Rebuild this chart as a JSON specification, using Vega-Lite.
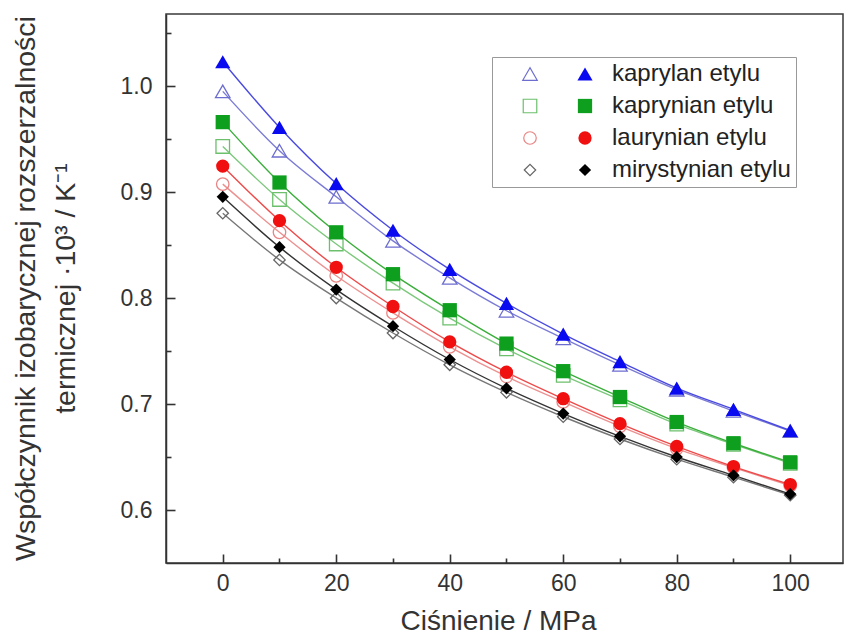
{
  "$schema": "https://vega.github.io/schema/vega-lite/v6.json",
  "width": 677,
  "height": 549,
  "autosize": {"type": "none"},
  "padding": {"left": 166, "top": 14, "right": 3, "bottom": 76},
  "background": "white",
  "config": {
    "font": "Liberation Sans",
    "view": {"stroke": "#3a3a3a", "strokeWidth": 1.5},
    "axis": {
      "grid": false,
      "zindex": 1,
      "domainColor": "#333333",
      "domainWidth": 1.5,
      "tickColor": "#333333",
      "tickWidth": 1.6,
      "labelColor": "#333333",
      "titleColor": "#333333",
      "labelFont": "Liberation Sans",
      "titleFont": "Liberation Sans",
      "titleFontWeight": "normal"
    }
  },
  "data": {
    "values": [
      {"p": 0, "a": 1.023, "ester": "kaprylan etylu", "typ": "filled"},
      {"p": 10, "a": 0.961, "ester": "kaprylan etylu", "typ": "filled"},
      {"p": 20, "a": 0.908, "ester": "kaprylan etylu", "typ": "filled"},
      {"p": 30, "a": 0.864, "ester": "kaprylan etylu", "typ": "filled"},
      {"p": 40, "a": 0.827, "ester": "kaprylan etylu", "typ": "filled"},
      {"p": 50, "a": 0.795, "ester": "kaprylan etylu", "typ": "filled"},
      {"p": 60, "a": 0.766, "ester": "kaprylan etylu", "typ": "filled"},
      {"p": 70, "a": 0.740, "ester": "kaprylan etylu", "typ": "filled"},
      {"p": 80, "a": 0.715, "ester": "kaprylan etylu", "typ": "filled"},
      {"p": 90, "a": 0.695, "ester": "kaprylan etylu", "typ": "filled"},
      {"p": 100, "a": 0.675, "ester": "kaprylan etylu", "typ": "filled"},
      {"p": 0, "a": 0.995, "ester": "kaprylan etylu", "typ": "open"},
      {"p": 10, "a": 0.939, "ester": "kaprylan etylu", "typ": "open"},
      {"p": 20, "a": 0.8955, "ester": "kaprylan etylu", "typ": "open"},
      {"p": 30, "a": 0.854, "ester": "kaprylan etylu", "typ": "open"},
      {"p": 40, "a": 0.819, "ester": "kaprylan etylu", "typ": "open"},
      {"p": 50, "a": 0.788, "ester": "kaprylan etylu", "typ": "open"},
      {"p": 60, "a": 0.762, "ester": "kaprylan etylu", "typ": "open"},
      {"p": 70, "a": 0.737, "ester": "kaprylan etylu", "typ": "open"},
      {"p": 80, "a": 0.7135, "ester": "kaprylan etylu", "typ": "open"},
      {"p": 90, "a": 0.6935, "ester": "kaprylan etylu", "typ": "open"},
      {"p": 100, "a": 0.6745, "ester": "kaprylan etylu", "typ": "open"},
      {"p": 0, "a": 0.966, "ester": "kaprynian etylu", "typ": "filled"},
      {"p": 10, "a": 0.909, "ester": "kaprynian etylu", "typ": "filled"},
      {"p": 20, "a": 0.862, "ester": "kaprynian etylu", "typ": "filled"},
      {"p": 30, "a": 0.8225, "ester": "kaprynian etylu", "typ": "filled"},
      {"p": 40, "a": 0.7885, "ester": "kaprynian etylu", "typ": "filled"},
      {"p": 50, "a": 0.757, "ester": "kaprynian etylu", "typ": "filled"},
      {"p": 60, "a": 0.731, "ester": "kaprynian etylu", "typ": "filled"},
      {"p": 70, "a": 0.7066, "ester": "kaprynian etylu", "typ": "filled"},
      {"p": 80, "a": 0.683, "ester": "kaprynian etylu", "typ": "filled"},
      {"p": 90, "a": 0.663, "ester": "kaprynian etylu", "typ": "filled"},
      {"p": 100, "a": 0.645, "ester": "kaprynian etylu", "typ": "filled"},
      {"p": 0, "a": 0.943, "ester": "kaprynian etylu", "typ": "open"},
      {"p": 10, "a": 0.893, "ester": "kaprynian etylu", "typ": "open"},
      {"p": 20, "a": 0.851, "ester": "kaprynian etylu", "typ": "open"},
      {"p": 30, "a": 0.814, "ester": "kaprynian etylu", "typ": "open"},
      {"p": 40, "a": 0.781, "ester": "kaprynian etylu", "typ": "open"},
      {"p": 50, "a": 0.752, "ester": "kaprynian etylu", "typ": "open"},
      {"p": 60, "a": 0.727, "ester": "kaprynian etylu", "typ": "open"},
      {"p": 70, "a": 0.704, "ester": "kaprynian etylu", "typ": "open"},
      {"p": 80, "a": 0.681, "ester": "kaprynian etylu", "typ": "open"},
      {"p": 90, "a": 0.662, "ester": "kaprynian etylu", "typ": "open"},
      {"p": 100, "a": 0.644, "ester": "kaprynian etylu", "typ": "open"},
      {"p": 0, "a": 0.9245, "ester": "laurynian etylu", "typ": "filled"},
      {"p": 10, "a": 0.873, "ester": "laurynian etylu", "typ": "filled"},
      {"p": 20, "a": 0.829, "ester": "laurynian etylu", "typ": "filled"},
      {"p": 30, "a": 0.792, "ester": "laurynian etylu", "typ": "filled"},
      {"p": 40, "a": 0.7586, "ester": "laurynian etylu", "typ": "filled"},
      {"p": 50, "a": 0.730, "ester": "laurynian etylu", "typ": "filled"},
      {"p": 60, "a": 0.705, "ester": "laurynian etylu", "typ": "filled"},
      {"p": 70, "a": 0.6815, "ester": "laurynian etylu", "typ": "filled"},
      {"p": 80, "a": 0.660, "ester": "laurynian etylu", "typ": "filled"},
      {"p": 90, "a": 0.641, "ester": "laurynian etylu", "typ": "filled"},
      {"p": 100, "a": 0.624, "ester": "laurynian etylu", "typ": "filled"},
      {"p": 0, "a": 0.9075, "ester": "laurynian etylu", "typ": "open"},
      {"p": 10, "a": 0.862, "ester": "laurynian etylu", "typ": "open"},
      {"p": 20, "a": 0.821, "ester": "laurynian etylu", "typ": "open"},
      {"p": 30, "a": 0.786, "ester": "laurynian etylu", "typ": "open"},
      {"p": 40, "a": 0.754, "ester": "laurynian etylu", "typ": "open"},
      {"p": 50, "a": 0.726, "ester": "laurynian etylu", "typ": "open"},
      {"p": 60, "a": 0.702, "ester": "laurynian etylu", "typ": "open"},
      {"p": 70, "a": 0.679, "ester": "laurynian etylu", "typ": "open"},
      {"p": 80, "a": 0.658, "ester": "laurynian etylu", "typ": "open"},
      {"p": 90, "a": 0.640, "ester": "laurynian etylu", "typ": "open"},
      {"p": 100, "a": 0.623, "ester": "laurynian etylu", "typ": "open"},
      {"p": 0, "a": 0.8955, "ester": "mirystynian etylu", "typ": "filled"},
      {"p": 10, "a": 0.848, "ester": "mirystynian etylu", "typ": "filled"},
      {"p": 20, "a": 0.808, "ester": "mirystynian etylu", "typ": "filled"},
      {"p": 30, "a": 0.7734, "ester": "mirystynian etylu", "typ": "filled"},
      {"p": 40, "a": 0.742, "ester": "mirystynian etylu", "typ": "filled"},
      {"p": 50, "a": 0.7148, "ester": "mirystynian etylu", "typ": "filled"},
      {"p": 60, "a": 0.691, "ester": "mirystynian etylu", "typ": "filled"},
      {"p": 70, "a": 0.6695, "ester": "mirystynian etylu", "typ": "filled"},
      {"p": 80, "a": 0.650, "ester": "mirystynian etylu", "typ": "filled"},
      {"p": 90, "a": 0.6327, "ester": "mirystynian etylu", "typ": "filled"},
      {"p": 100, "a": 0.615, "ester": "mirystynian etylu", "typ": "filled"},
      {"p": 0, "a": 0.880, "ester": "mirystynian etylu", "typ": "open"},
      {"p": 10, "a": 0.836, "ester": "mirystynian etylu", "typ": "open"},
      {"p": 20, "a": 0.800, "ester": "mirystynian etylu", "typ": "open"},
      {"p": 30, "a": 0.767, "ester": "mirystynian etylu", "typ": "open"},
      {"p": 40, "a": 0.737, "ester": "mirystynian etylu", "typ": "open"},
      {"p": 50, "a": 0.711, "ester": "mirystynian etylu", "typ": "open"},
      {"p": 60, "a": 0.688, "ester": "mirystynian etylu", "typ": "open"},
      {"p": 70, "a": 0.667, "ester": "mirystynian etylu", "typ": "open"},
      {"p": 80, "a": 0.648, "ester": "mirystynian etylu", "typ": "open"},
      {"p": 90, "a": 0.631, "ester": "mirystynian etylu", "typ": "open"},
      {"p": 100, "a": 0.614, "ester": "mirystynian etylu", "typ": "open"}
    ]
  },
  "encoding": {
    "x": {
      "field": "p",
      "type": "quantitative",
      "scale": {"domain": [-10, 109.3], "nice": false, "zero": false},
      "axis": {
        "values": [0, 10, 20, 30, 40, 50, 60, 70, 80, 90, 100],
        "labelExpr": "datum.value % 20 === 0 ? datum.label : ''",
        "labelFontSize": 23,
        "labelPadding": 18,
        "tickSize": {"condition": {"test": "datum.value % 20 === 0", "value": -9}, "value": -5},
        "title": "Ciśnienie / MPa",
        "titleFontSize": 28,
        "titleX": 332,
        "titleY": 66,
        "titleBaseline": "alphabetic"
      }
    },
    "y": {
      "field": "a",
      "type": "quantitative",
      "scale": {"domain": [0.55, 1.068], "nice": false, "zero": false},
      "axis": {
        "values": [0.6, 0.65, 0.7, 0.75, 0.8, 0.85, 0.9, 0.95, 1.0, 1.05],
        "format": ".1f",
        "labelExpr": "abs(datum.value * 10 - round(datum.value * 10)) < 0.001 ? datum.label : ''",
        "labelFontSize": 23,
        "labelPadding": 23,
        "tickSize": {"condition": {"test": "abs(datum.value * 10 - round(datum.value * 10)) < 0.001", "value": -9}, "value": -5},
        "title": ["Współczynnik izobarycznej rozszerzalności", "termicznej ·10³ / K⁻¹"],
        "titleFontSize": 28.5,
        "titleLineHeight": 40,
        "titleAngle": -90,
        "titleAlign": "center",
        "titleBaseline": "middle",
        "titleX": -141,
        "titleY": 274
      }
    }
  },
  "layer": [
    {
      "transform": [{"filter": "datum.typ === 'open'"}],
      "mark": {"type": "line", "interpolate": "monotone", "strokeWidth": 1.4},
      "encoding": {
        "color": {
          "field": "ester",
          "type": "nominal",
          "scale": {
            "domain": ["kaprylan etylu", "kaprynian etylu", "laurynian etylu", "mirystynian etylu"],
            "range": ["#7b7bd6", "#7cc87c", "#ec9090", "#777777"]
          },
          "legend": null
        }
      }
    },
    {
      "transform": [{"filter": "datum.typ === 'filled'"}],
      "mark": {"type": "line", "interpolate": "monotone", "strokeWidth": 1.4},
      "encoding": {
        "color": {
          "field": "ester",
          "type": "nominal",
          "scale": {
            "domain": ["kaprylan etylu", "kaprynian etylu", "laurynian etylu", "mirystynian etylu"],
            "range": ["#4a4ae0", "#3aae3a", "#ee4a4a", "#333333"]
          },
          "legend": null
        }
      }
    },
    {
      "transform": [{"filter": "datum.typ === 'open'"}],
      "mark": {"type": "point", "filled": false, "strokeWidth": 1.3, "opacity": 1},
      "encoding": {
        "shape": {
          "field": "ester",
          "type": "nominal",
          "scale": {
            "domain": ["kaprylan etylu", "kaprynian etylu", "laurynian etylu", "mirystynian etylu"],
            "range": ["triangle-up", "square", "circle", "diamond"]
          },
          "legend": {
            "orient": "none", "legendX": 326, "legendY": 43, "title": null,
            "padding": 5, "strokeColor": "#999999", "fillColor": "white",
            "symbolOffset": 21, "labelOffset": 70, "labelFontSize": 24, "labelColor": "#222222", "labelLimit": 400,
            "rowPadding": 8, "symbolSize": 110, "symbolStrokeWidth": 1.2, "labelFont": "Liberation Sans"
          }
        },
        "color": {
          "field": "ester",
          "type": "nominal",
          "scale": {
            "domain": ["kaprylan etylu", "kaprynian etylu", "laurynian etylu", "mirystynian etylu"],
            "range": ["#6d6dd0", "#6cc06c", "#e88484", "#666666"]
          },
          "legend": {
            "orient": "none", "legendX": 326, "legendY": 43, "title": null,
            "padding": 5, "strokeColor": "#999999", "fillColor": "white",
            "symbolOffset": 21, "labelOffset": 70, "labelFontSize": 24, "labelColor": "#222222", "labelLimit": 400,
            "rowPadding": 8, "symbolSize": 110, "symbolStrokeWidth": 1.2, "labelFont": "Liberation Sans"
          }
        },
        "size": {
          "field": "ester",
          "type": "nominal",
          "scale": {
            "domain": ["kaprylan etylu", "kaprynian etylu", "laurynian etylu", "mirystynian etylu"],
            "range": [210, 130, 150, 180]
          },
          "legend": null
        }
      }
    },
    {
      "transform": [{"filter": "datum.typ === 'filled'"}],
      "mark": {"type": "point", "filled": true, "opacity": 1},
      "encoding": {
        "shape": {
          "field": "ester",
          "type": "nominal",
          "scale": {
            "domain": ["kaprylan etylu", "kaprynian etylu", "laurynian etylu", "mirystynian etylu"],
            "range": ["triangle-up", "square", "circle", "diamond"]
          },
          "legend": {
            "orient": "none", "legendX": 326, "legendY": 43, "title": null,
            "padding": 5, "symbolOffset": 76, "labelExpr": "' '", "labelFontSize": 24, "labelOffset": 4,
            "rowPadding": 8, "symbolSize": 120, "zindex": 2
          }
        },
        "color": {
          "field": "ester",
          "type": "nominal",
          "scale": {
            "domain": ["kaprylan etylu", "kaprynian etylu", "laurynian etylu", "mirystynian etylu"],
            "range": ["#0a0af0", "#0f9f1f", "#f01010", "#000000"]
          },
          "legend": {
            "orient": "none", "legendX": 326, "legendY": 43, "title": null,
            "padding": 5, "symbolOffset": 76, "labelExpr": "' '", "labelFontSize": 24, "labelOffset": 4,
            "rowPadding": 8, "symbolSize": 120, "zindex": 2
          }
        },
        "size": {
          "field": "ester",
          "type": "nominal",
          "scale": {
            "domain": ["kaprylan etylu", "kaprynian etylu", "laurynian etylu", "mirystynian etylu"],
            "range": [230, 150, 160, 190]
          },
          "legend": null
        }
      }
    }
  ],
  "resolve": {
    "scale": {"color": "independent", "shape": "independent", "size": "independent"},
    "legend": {"color": "independent", "shape": "independent"}
  }
}
